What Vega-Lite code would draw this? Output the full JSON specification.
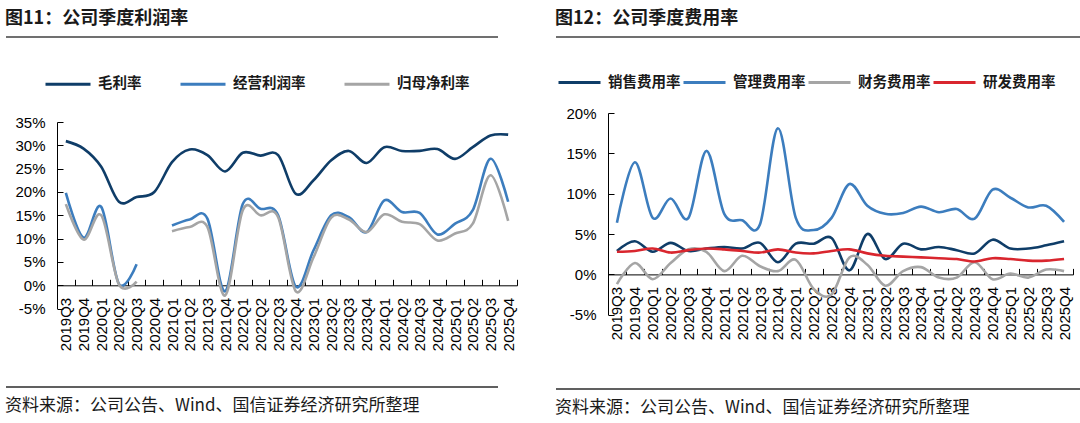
{
  "$schema": "https://vega.github.io/schema/vega-lite/v6.json",
  "padding": {"left": 5, "top": 10, "right": 0, "bottom": 0},
  "background": "white",
  "config": {
    "view": {"stroke": null},
    "font": "Noto Sans CJK SC",
    "title": {"anchor": "start", "fontSize": 18, "fontWeight": "bold", "color": "#1a1a1a", "font": "Noto Sans CJK SC", "offset": 8},
    "axis": {"domainColor": "#000000", "tickColor": "#000000", "labelColor": "#000000", "labelFont": "Liberation Sans", "labelFontSize": 15, "grid": false, "title": null, "domainWidth": 1, "tickWidth": 1},
    "legend": {"labelFont": "Noto Sans CJK SC", "labelFontSize": 14.5, "labelFontWeight": "bold", "labelColor": "#1a1a1a", "symbolType": "stroke", "symbolStrokeWidth": 3, "labelOffset": 6, "padding": 0, "rowPadding": 0, "title": null}
  },
  "datasets": {
    "profit": [
      {"q": "2019Q3", "毛利率": 30.9, "经营利润率": 19.8, "归母净利率": 17.4},
      {"q": "2019Q4", "毛利率": 29.3, "经营利润率": 10.2, "归母净利率": 9.8},
      {"q": "2020Q1", "毛利率": 25.4, "经营利润率": 16.8, "归母净利率": 15.0},
      {"q": "2020Q2", "毛利率": 17.9, "经营利润率": 0.3, "归母净利率": 0.2},
      {"q": "2020Q3", "毛利率": 18.9, "经营利润率": 4.5, "归母净利率": 0.8},
      {"q": "2020Q4", "毛利率": 20.0, "经营利润率": null, "归母净利率": null},
      {"q": "2021Q1", "毛利率": 26.4, "经营利润率": 12.8, "归母净利率": 11.6},
      {"q": "2021Q2", "毛利率": 29.1, "经营利润率": 14.1, "归母净利率": 12.5},
      {"q": "2021Q3", "毛利率": 27.9, "经营利润率": 14.3, "归母净利率": 12.5},
      {"q": "2021Q4", "毛利率": 24.4, "经营利润率": -1.3, "归母净利率": -2.2},
      {"q": "2022Q1", "毛利率": 28.4, "经营利润率": 17.4, "归母净利率": 16.1},
      {"q": "2022Q2", "毛利率": 27.8, "经营利润率": 16.4, "归母净利率": 15.0},
      {"q": "2022Q3", "毛利率": 27.9, "经营利润率": 15.0, "归母净利率": 14.6},
      {"q": "2022Q4", "毛利率": 19.6, "经营利润率": -0.3, "归母净利率": -1.3},
      {"q": "2023Q1", "毛利率": 22.5, "经营利润率": 7.5, "归母净利率": 6.0},
      {"q": "2023Q2", "毛利率": 26.8, "经营利润率": 15.0, "归母净利率": 14.5},
      {"q": "2023Q3", "毛利率": 28.8, "经营利润率": 14.6, "归母净利率": 14.1},
      {"q": "2023Q4", "毛利率": 26.2, "经营利润率": 11.4, "归母净利率": 11.4},
      {"q": "2024Q1", "毛利率": 29.6, "经营利润率": 18.2, "归母净利率": 15.2},
      {"q": "2024Q2", "毛利率": 28.8, "经营利润率": 15.7, "归母净利率": 13.6},
      {"q": "2024Q3", "毛利率": 28.8, "经营利润率": 15.5, "归母净利率": 13.1},
      {"q": "2024Q4", "毛利率": 29.2, "经营利润率": 10.9, "归母净利率": 9.6},
      {"q": "2025Q1", "毛利率": 27.1, "经营利润率": 13.2, "归母净利率": 11.1},
      {"q": "2025Q2", "毛利率": 29.6, "经营利润率": 16.1, "归母净利率": 13.2},
      {"q": "2025Q3", "毛利率": 32.1, "经营利润率": 27.1, "归母净利率": 23.6},
      {"q": "2025Q4", "毛利率": 32.3, "经营利润率": 17.9, "归母净利率": 13.8}
    ],
    "expense": [
      {"q": "2019Q3", "销售费用率": 2.9, "管理费用率": 6.4, "财务费用率": -1.2, "研发费用率": 2.8},
      {"q": "2019Q4", "销售费用率": 4.1, "管理费用率": 13.9, "财务费用率": 1.4, "研发费用率": 2.9},
      {"q": "2020Q1", "销售费用率": 2.8, "管理费用率": 7.0, "财务费用率": -0.6, "研发费用率": 3.2},
      {"q": "2020Q2", "销售费用率": 3.9, "管理费用率": 9.4, "财务费用率": 1.4, "研发费用率": 2.7},
      {"q": "2020Q3", "销售费用率": 2.9, "管理费用率": 7.0, "财务费用率": 3.1, "研发费用率": 3.0},
      {"q": "2020Q4", "销售费用率": 3.2, "管理费用率": 15.3, "财务费用率": 2.8, "研发费用率": 3.2},
      {"q": "2021Q1", "销售费用率": 3.4, "管理费用率": 7.5, "财务费用率": 0.4, "研发费用率": 3.1},
      {"q": "2021Q2", "销售费用率": 3.2, "管理费用率": 6.7, "财务费用率": 2.3, "研发费用率": 2.9},
      {"q": "2021Q3", "销售费用率": 3.9, "管理费用率": 6.2, "财务费用率": 1.0, "研发费用率": 2.7},
      {"q": "2021Q4", "销售费用率": 1.5, "管理费用率": 18.1, "财务费用率": 0.4, "研发费用率": 3.1},
      {"q": "2022Q1", "销售费用率": 3.8, "管理费用率": 7.0, "财务费用率": 1.8, "研发费用率": 2.7},
      {"q": "2022Q2", "销售费用率": 3.8, "管理费用率": 5.5, "财务费用率": -1.8, "研发费用率": 2.6},
      {"q": "2022Q3", "销售费用率": 4.5, "管理费用率": 7.0, "财务费用率": -2.5, "研发费用率": 2.9},
      {"q": "2022Q4", "销售费用率": 0.5, "管理费用率": 11.2, "财务费用率": 2.1, "研发费用率": 3.1},
      {"q": "2023Q1", "销售费用率": 5.0, "管理费用率": 8.5, "财务费用率": 1.2, "研发费用率": 2.6},
      {"q": "2023Q2", "销售费用率": 1.9, "管理费用率": 7.5, "财务费用率": -1.4, "研发费用率": 2.3},
      {"q": "2023Q3", "销售费用率": 3.8, "管理费用率": 7.6, "财务费用率": 0.4, "研发费用率": 2.2},
      {"q": "2023Q4", "销售费用率": 3.1, "管理费用率": 8.4, "财务费用率": 0.9, "研发费用率": 2.1},
      {"q": "2024Q1", "销售费用率": 3.4, "管理费用率": 7.7, "财务费用率": -0.4, "研发费用率": 2.0},
      {"q": "2024Q2", "销售费用率": 3.0, "管理费用率": 8.1, "财务费用率": -0.4, "研发费用率": 1.9},
      {"q": "2024Q3", "销售费用率": 2.6, "管理费用率": 6.9, "财务费用率": 1.5, "研发费用率": 1.6},
      {"q": "2024Q4", "销售费用率": 4.3, "管理费用率": 10.5, "财务费用率": -0.6, "研发费用率": 2.0},
      {"q": "2025Q1", "销售费用率": 3.2, "管理费用率": 9.5, "财务费用率": 0.1, "研发费用率": 1.9},
      {"q": "2025Q2", "销售费用率": 3.2, "管理费用率": 8.3, "财务费用率": -0.4, "研发费用率": 1.7},
      {"q": "2025Q3", "销售费用率": 3.6, "管理费用率": 8.5, "财务费用率": 0.6, "研发费用率": 1.7},
      {"q": "2025Q4", "销售费用率": 4.1, "管理费用率": 6.5, "财务费用率": 0.4, "研发费用率": 1.9}
    ]
  },
  "resolve": {"scale": {"color": "independent"}, "legend": {"color": "independent"}},
  "hconcat": [
    {
      "resolve": {"scale": {"color": "independent"}, "legend": {"color": "independent"}},
      "vconcat": [
        {
          "title": {"text": "图11：公司季度利润率"},
          "width": 492, "height": 1,
          "data": {"values": [{"k": 0}]},
          "mark": {"type": "rule", "color": "#707070", "strokeWidth": 2},
          "encoding": {"y": {"datum": 0, "type": "quantitative", "scale": {"domain": [0, 1]}, "axis": null}}
        },
        {
          "resolve": {"scale": {"color": "independent"}, "legend": {"color": "independent"}},
          "vconcat": [
            {
              "resolve": {"scale": {"color": "independent"}, "legend": {"color": "independent"}},
              "hconcat": [
                {"width": 1, "height": 1, "data": {"values": []}, "mark": "point", "encoding": {}},
                {
                  "width": 460, "height": 186.6,
                  "data": {"name": "profit"},
                  "transform": [{"fold": ["毛利率", "经营利润率", "归母净利率"], "as": ["series", "value"]}],
                  "mark": {"type": "line", "interpolate": "cardinal", "strokeWidth": 2.6, "invalid": "break-paths-filter-domains"},
                  "encoding": {
                    "x": {"field": "q", "type": "ordinal", "sort": null, "bandPosition": 0.5,
                      "scale": {"type": "band", "paddingInner": 0, "paddingOuter": 0},
                      "axis": {"offset": -23.3, "tickBand": "extent", "labelAngle": 270, "tickSize": -6, "labelPadding": 18, "labelOverlap": false}},
                    "y": {"field": "value", "type": "quantitative", "scale": {"domain": [-5, 35], "nice": false, "zero": false},
                      "axis": {"values": [-5, 0, 5, 10, 15, 20, 25, 30, 35], "labelExpr": "datum.value + '%'", "tickSize": -6, "labelPadding": 18}},
                    "color": {"field": "series", "type": "nominal",
                      "scale": {"domain": ["毛利率", "经营利润率", "归母净利率"], "range": ["#0F3D68", "#3C7DBE", "#A5A5A5"]},
                      "legend": {"orient": "none", "legendX": -13, "legendY": -62, "direction": "horizontal", "columnPadding": 32, "symbolSize": 2025}}
                  }
                }
              ],
              "spacing": 7
            },
            {
              "title": {"text": "资料来源：公司公告、Wind、国信证券经济研究所整理", "orient": "bottom", "offset": 10, "fontSize": 17, "fontWeight": "normal", "limit": 0},
              "width": 492, "height": 1,
              "data": {"values": [{"k": 0}]},
              "mark": {"type": "rule", "color": "#606060", "strokeWidth": 2},
              "encoding": {"y": {"datum": 1, "type": "quantitative", "scale": {"domain": [0, 1]}, "axis": null}}
            }
          ],
          "spacing": 35
        }
      ],
      "spacing": 22
    },
    {
      "resolve": {"scale": {"color": "independent"}, "legend": {"color": "independent"}},
      "vconcat": [
        {
          "title": {"text": "图12：公司季度费用率"},
          "width": 524, "height": 1,
          "data": {"values": [{"k": 0}]},
          "mark": {"type": "rule", "color": "#707070", "strokeWidth": 2},
          "encoding": {"y": {"datum": 0, "type": "quantitative", "scale": {"domain": [0, 1]}, "axis": null}}
        },
        {
          "resolve": {"scale": {"color": "independent"}, "legend": {"color": "independent"}},
          "vconcat": [
            {
              "resolve": {"scale": {"color": "independent"}, "legend": {"color": "independent"}},
              "hconcat": [
                {"width": 1, "height": 1, "data": {"values": []}, "mark": "point", "encoding": {}},
                {
                  "width": 465, "height": 201.7,
                  "data": {"name": "expense"},
                  "transform": [{"fold": ["销售费用率", "管理费用率", "财务费用率", "研发费用率"], "as": ["series", "value"]}],
                  "mark": {"type": "line", "interpolate": "cardinal", "strokeWidth": 2.6, "invalid": "break-paths-filter-domains"},
                  "encoding": {
                    "x": {"field": "q", "type": "ordinal", "sort": null, "bandPosition": 0.5,
                      "scale": {"type": "band", "paddingInner": 0, "paddingOuter": 0},
                      "axis": {"offset": -40.3, "tickBand": "extent", "labelAngle": 270, "tickSize": -6, "labelPadding": 18, "labelOverlap": false}},
                    "y": {"field": "value", "type": "quantitative", "scale": {"domain": [-5, 20], "nice": false, "zero": false},
                      "axis": {"values": [-5, 0, 5, 10, 15, 20], "labelExpr": "datum.value + '%'", "tickSize": -6, "labelPadding": 18}},
                    "color": {"field": "series", "type": "nominal",
                      "scale": {"domain": ["销售费用率", "管理费用率", "财务费用率", "研发费用率"], "range": ["#0F3D68", "#3C7DBE", "#A5A5A5", "#D9262E"]},
                      "legend": {"orient": "none", "legendX": -51, "legendY": -53, "direction": "horizontal", "columnPadding": -4, "symbolSize": 1764}}
                  }
                }
              ],
              "spacing": 0
            },
            {
              "title": {"text": "资料来源：公司公告、Wind、国信证券经济研究所整理", "orient": "bottom", "offset": 10, "fontSize": 17, "fontWeight": "normal", "limit": 0},
              "width": 524, "height": 1,
              "data": {"values": [{"k": 0}]},
              "mark": {"type": "rule", "color": "#606060", "strokeWidth": 2},
              "encoding": {"y": {"datum": 1, "type": "quantitative", "scale": {"domain": [0, 1]}, "axis": null}}
            }
          ],
          "spacing": 48
        }
      ],
      "spacing": 22
    }
  ],
  "spacing": 37
}
